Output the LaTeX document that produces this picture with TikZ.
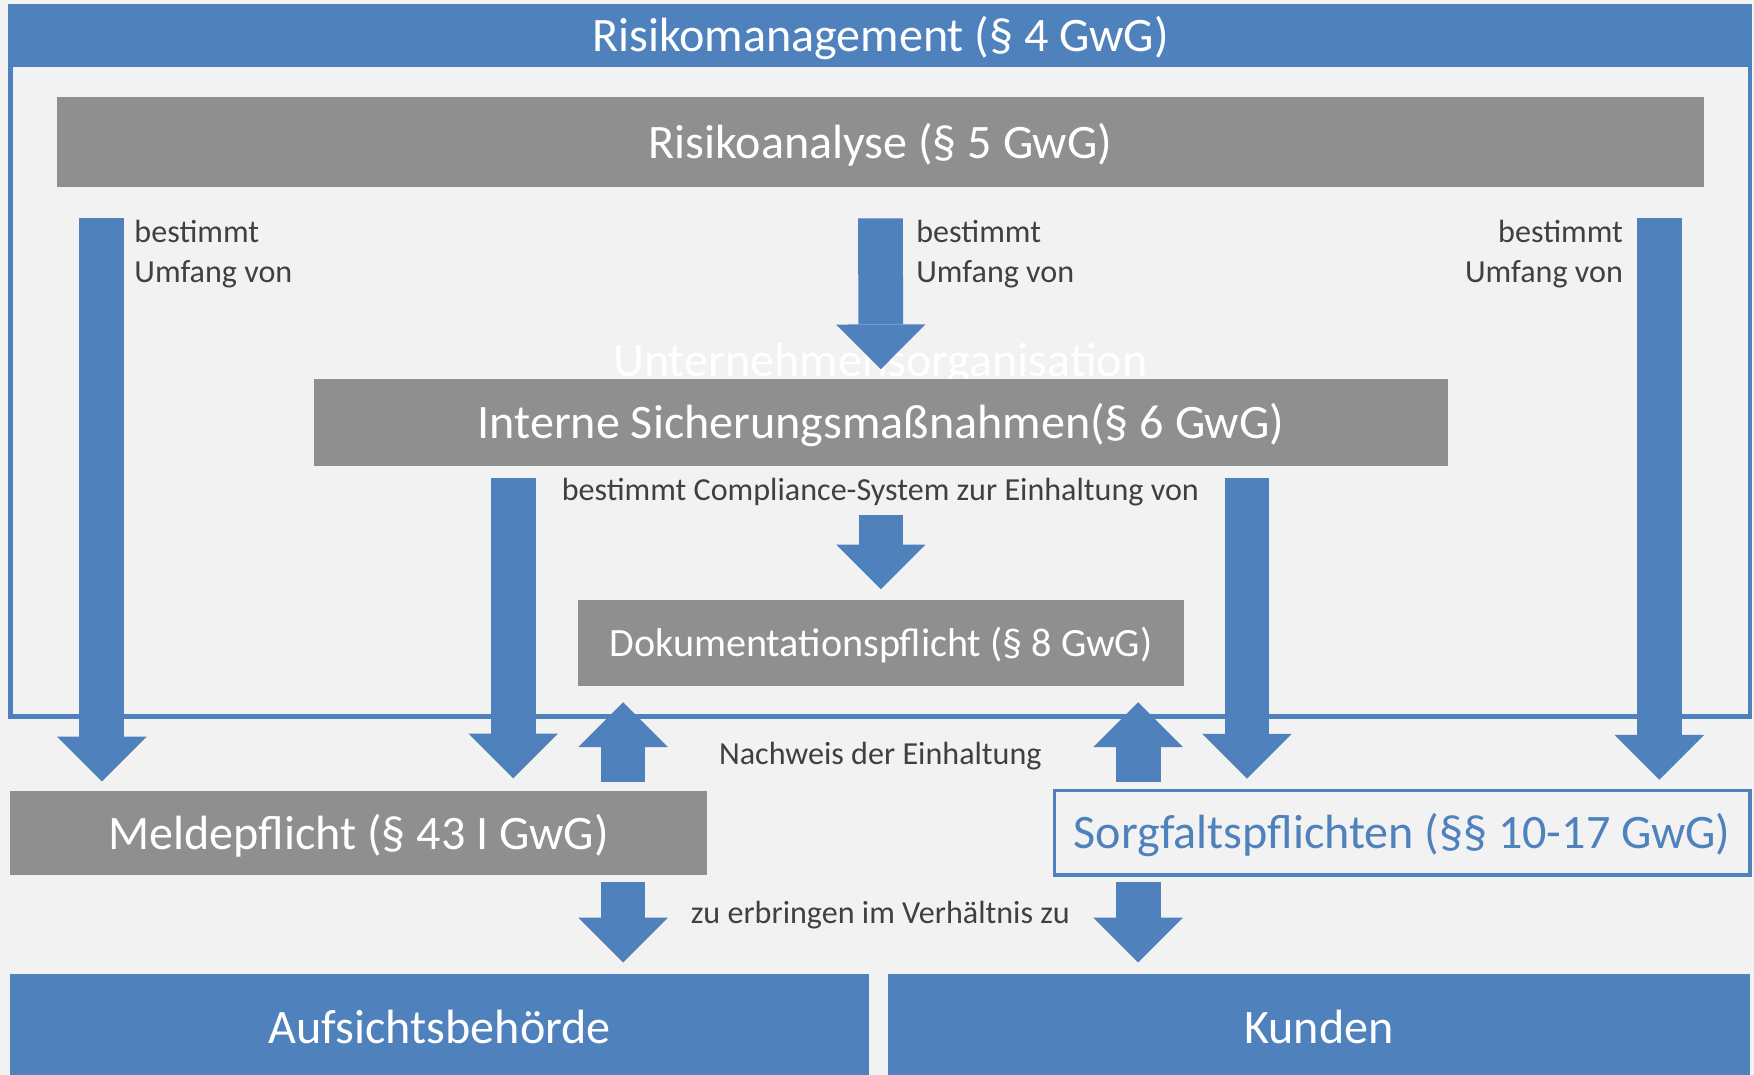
\documentclass[tikz,border=0pt]{standalone}
\usepackage{fontspec}
\setmainfont{Carlito}
\usepackage{tikz}
\usetikzlibrary{arrows.meta,positioning,calc}
\usepackage{xcolor}
\definecolor{gwgblue}{HTML}{4F81BD}
\definecolor{gwggray}{HTML}{8F8F8F}
\definecolor{gwgbg}{HTML}{F2F2F2}
\definecolor{gwgtext}{HTML}{404040}

\begin{document}
\begin{tikzpicture}[
  x=1pt, y=-1pt,
  bigfont/.style={font=\fontsize{43}{51}\selectfont},
  hdr/.style={fill=gwgblue,text=white,inner sep=0pt,text height=29pt,text depth=0pt,bigfont},
  grey/.style={fill=gwggray,text=white,inner sep=0pt,text height=29pt,text depth=0pt,bigfont},
  pflicht/.style={draw=gwgblue,line width=3.3pt,fill=gwgbg,text=gwgblue,inner sep=0pt,text height=29pt,text depth=0pt,bigfont},
  lbl/.style={text=gwgtext,inner sep=0pt,font=\fontsize{28.7}{35}\selectfont},
  fat/.style={draw=gwgblue,line width=40pt,-{Triangle[length=40pt,width=80pt,line width=0pt]}},
  rmframe/.style={draw=gwgblue,line width=4pt}
]

% Background
\fill[gwgbg] (0,0) rectangle (1568,961);
\useasboundingbox (0,0) rectangle (1568,961);

% Risikomanagement frame
\coordinate (rmend) at (1564.5,640.3);
\draw[rmframe] (9.5,31) rectangle (rmend);
\node[hdr, minimum width=1559pt, minimum height=56pt] (rm) at (787,31.5) {Risikomanagement (\S~4 GwG)};

% Risikoanalyse
\node[grey, minimum width=1472pt, minimum height=81pt] (ana) at (787,127) {Risikoanalyse (\S~5 GwG)};

% Unternehmensorganisation (behind the boxes)
\node[bigfont, text=white, inner sep=0pt, anchor=base] (uorg) at (787,337) {Unternehmensorganisation};

% Interne Sicherungsmassnahmen
\node[grey, minimum width=1013pt, minimum height=77.6pt] (inter) at (787.5,377.8) {Interne Sicherungsmaßnahmen(\S~6 GwG)};

% Dokumentation
\node[grey, minimum width=541pt, minimum height=77pt, text height=25.4pt, font=\fontsize{35.9}{42}\selectfont] (dok) at (787.5,574.5) {Dokumentationspflicht (\S~8 GwG)};

% Pflichten
\node[grey, minimum width=622.8pt, minimum height=75pt] (melde) at (320.6,744.5) {Meldepflicht (\S~43 I GwG)};
\node[pflicht, minimum width=621.6pt, minimum height=75.3pt] (sorg) at (1253.5,744.3) {Sorgfaltspflichten (\S\S~10-17 GwG)};

% Adressaten
\node[hdr, minimum width=768pt, minimum height=90pt, text height=34pt] (auf) at (393,916) {Aufsichtsbehörde};
\node[hdr, minimum width=770pt, minimum height=90pt, text height=34pt] (kun) at (1179,916) {Kunden};

% Labels
\node[lbl, anchor=north west, align=left] (lblA) at (120,197) {bestimmt\\Umfang von};
\node[lbl, anchor=north west, align=left] (lblM) at (819,197) {bestimmt\\Umfang von};
\node[lbl, anchor=north east, align=right] (lblD) at (1451,197) {bestimmt\\Umfang von};
\node[lbl, anchor=base] (lblC) at (787,447) {bestimmt Compliance-System zur Einhaltung von};
\node[lbl, anchor=base] (lblN) at (787,683) {Nachweis der Einhaltung};
\node[lbl, anchor=base] (lblZ) at (787,826) {zu erbringen im Verhältnis zu};

% Columns
\coordinate (colA) at (91,0);
\coordinate (colB) at (458.8,0);
\coordinate (colUL) at (557,0);
\coordinate (colUR) at (1017.5,0);
\coordinate (colC) at (1114.7,0);
\coordinate (colD) at (1483.4,0);

% Arrows
\draw[fat, shorten <=27.5pt, shorten >=8.2pt] (ana.south -| colA) -- (melde.north -| colA);
\draw[fat, shorten <=27.5pt, shorten >=8.8pt] (ana.south) -- (inter.north);
\draw[fat, shorten <=27.5pt, shorten >=8pt] (ana.south -| colD) -- (sorg.north -| colD);
\draw[fat, shorten <=10.4pt, shorten >=11pt] (inter.south -| colB) -- (melde.north -| colB);
\draw[fat, shorten <=10.4pt, shorten >=9pt] (inter.south -| colC) -- (sorg.north -| colC);
\draw[fat, shorten <=43.4pt, shorten >=9pt] (inter.south) -- (dok.north);
\draw[fat, shorten <=8pt, shorten >=14.6pt] (melde.north -| colUL) -- (dok.south -| colUL);
\draw[fat, shorten <=6pt, shorten >=14.6pt] (sorg.north -| colUR) -- (dok.south -| colUR);
\draw[fat, shorten <=6.7pt, shorten >=10.4pt] (melde.south -| colUL) -- (auf.north -| colUL);
\draw[fat, shorten <=5pt, shorten >=10.4pt] (sorg.south -| colUR) -- (kun.north -| colUR);

\end{tikzpicture}
\end{document}
